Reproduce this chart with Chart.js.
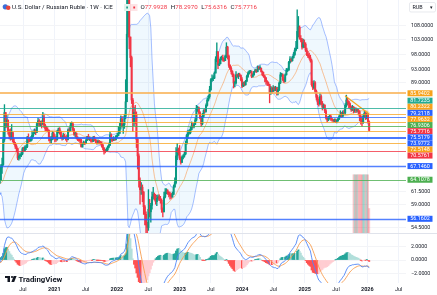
<!DOCTYPE html>
<html>
<head>
<meta charset="utf-8">
<script src="https://cdn.jsdelivr.net/npm/chart.js@4"></script>
<style>
  body { margin: 0; background: #fff; width: 437px; height: 295px; overflow: hidden; position: relative; }
  canvas { position: absolute; left: 0; }
  #price { top: 0; }
  #macd { top: 233px; }
</style>
</head>
<body>
<canvas id="price" width="437" height="233"></canvas>
<canvas id="macd" width="437" height="62"></canvas>
<script>
// weekly USD/RUB candles, first one is the week of 30 Sep 2019
const firstWeek = 2019.763;
const firstOpen = 64.5;

const closes = [
  64.3,64.0,63.9,63.8, 63.9,64.2,64.0,64.3, 64.0,63.5,62.8,62.3,62.0,
  61.5,61.3,61.8,63.5, 63.8,63.4,64.0,66.9, 67.5,73.5,80.5,78.0,78.5, 75.5,74.5,73.8,75.2, 73.0,72.5,71.8,71.2, 69.0,69.5,69.6,70.0,71.2,
  70.8,71.5,71.7,74.0, 73.4,73.2,73.8,74.5, 75.0,75.8,75.3,77.5,78.3, 77.4,77.7,77.5,79.3, 77.1,76.2,75.9,75.8, 73.8,73.2,73.5,75.0,74.0,
  73.8,73.5,75.5,76.2, 75.3,74.0,73.8,74.6, 74.0,73.9,73.5,75.9,75.7, 77.0,77.5,76.0,74.8, 75.0,73.9,73.5,73.3, 73.2,71.7,72.4,72.8,72.5,
  73.3,74.2,73.5,73.6, 73.2,73.0,73.9,73.4, 72.9,72.8,72.9,72.7,72.6, 72.1,71.4,70.6,70.5, 71.0,71.6,72.0,74.6, 73.7,73.4,73.6,73.5,74.3,
  74.5,75.0,76.8,78.8, 77.0,77.3,79.5,83.5, 105.0,120.5,104.0,97.0,84.0, 78.0,80.5,80.0,73.5, 69.5,64.0,62.0,62.5, 61.5,58.5,57.0,55.0,54.5,
  58.0,57.5,58.8,60.5, 61.0,60.5,59.5,60.2, 60.5,60.0,59.8,58.0,57.5, 60.5,61.5,61.8,61.4, 61.0,60.8,60.5,61.0, 62.5,63.5,69.5,71.0,70.3,
  69.0,68.0,69.2,69.5, 70.0,72.5,74.5,75.2, 75.2,76.0,77.0,76.8,77.3, 78.5,81.5,81.8,80.5, 79.0,77.5,79.5,81.0, 80.8,82.5,84.0,85.0,87.0,
  90.0,90.3,90.5,92.0, 96.5,99.0,94.5,95.0, 96.5,97.0,96.5,96.0,97.5, 100.5,97.5,94.5,93.5, 92.5,91.5,89.0,89.0, 91.5,91.0,91.5,91.3,90.0,
  88.0,89.0,88.5,89.5, 91.0,92.0,92.5,92.5, 91.0,91.5,92.5,93.0,92.5, 94.0,93.5,93.5,92.5, 91.5,91.0,90.5,89.5, 89.0,88.5,86.0,87.5,86.5,
  87.5,87.0,87.5,85.8, 87.0,89.0,91.5,91.5, 90.0,89.5,91.5,93.0,93.0, 95.5,96.5,96.0,97.0, 98.0,99.5,100.0,106.0, 107.5,103.5,103.0,100.5,102.0,
  101.5,99.5,98.0,97.5, 97.0,96.0,88.5,87.5, 89.0,86.5,84.8,83.5,83.0, 85.0,83.0,82.0,82.5, 81.0,79.0,78.5,79.0, 79.5,78.8,78.5,78.3,78.4,
  78.2,78.3,78.8,79.5, 80.0,79.5,80.5,80.4, 82.5,84.0,83.5,83.0,82.0, 81.3,82.0,81.0,81.5, 81.0,81.2,80.8,79.5, 78.5,77.8,79.5,80.3,79.0,
  80.0,77.9928,75.7716
];
const highs = [
  64.9,64.6,64.4,64.2, 64.3,64.5,64.4,64.6, 64.5,64.1,63.6,62.9,62.5,
  62.1,61.8,62.0,63.7, 64.5,64.0,64.3,67.5, 69.0,75.5,82.7,80.5,79.8, 78.5,76.0,76.2,77.3, 75.3,73.7,72.8,72.2, 71.4,70.2,70.0,70.4,71.5,
  71.6,71.9,72.1,74.3, 74.9,73.9,74.2,75.6, 75.3,76.1,76.0,77.9,79.0, 78.6,78.2,78.3,80.6, 79.8,77.4,76.8,76.5, 75.9,74.2,74.2,75.5,75.3,
  74.7,74.3,75.8,76.4, 76.5,75.6,74.3,75.0, 74.8,74.2,74.5,76.2,76.4, 77.8,78.0,77.8,76.3, 75.3,75.2,74.2,73.7, 73.8,73.5,72.6,73.1,72.9,
  73.6,74.3,74.8,74.1, 73.7,73.5,74.3,74.3, 73.5,73.3,73.4,73.3,73.0, 72.9,72.3,71.5,71.1, 71.4,71.9,72.6,75.3, 74.9,73.9,74.2,73.9,74.5,
  75.0,76.7,77.6,79.6, 79.5,77.7,80.0,90.0, 120.0,150.0,125.0,104.0,97.5, 84.5,82.0,82.5,80.7, 73.8,70.0,64.5,63.5, 63.0,61.6,58.8,57.5,55.5,
  62.0,60.0,59.2,61.5, 62.5,61.3,61.0,60.8, 60.9,60.9,60.6,60.1,58.3, 61.5,62.2,62.2,62.0, 61.6,61.5,61.2,61.5, 63.0,64.5,71.5,72.5,71.4,
  72.0,69.3,69.5,69.8, 70.5,73.1,74.8,75.8, 76.0,76.6,78.0,77.7,77.6, 79.0,82.5,82.2,82.0, 80.8,79.5,80.3,81.3, 81.5,82.9,84.5,85.3,88.0,
  90.3,91.5,91.2,92.4, 97.3,102.0,98.5,96.5, 97.2,97.5,97.8,96.8,97.8, 102.0,100.8,97.8,94.7, 94.0,92.8,91.8,89.6, 92.5,91.7,92.0,92.0,91.5,
  90.6,89.3,89.4,89.8, 91.4,92.4,92.8,92.9, 92.7,91.9,92.6,93.3,93.1, 94.3,94.1,94.4,93.7, 92.7,92.3,91.3,90.7, 89.7,89.3,88.6,88.0,87.8,
  88.2,87.9,88.0,87.7, 87.8,89.3,92.2,92.0, 91.8,90.6,91.8,93.5,93.4, 95.8,97.3,96.7,97.4, 98.7,100.2,102.5,114.0, 111.5,108.0,104.5,103.5,103.3,
  103.0,102.0,100.2,99.0, 98.5,97.8,96.5,89.5, 89.7,89.4,86.9,85.3,84.3, 86.0,85.5,83.6,82.9, 82.7,81.3,79.4,79.5, 79.8,79.9,79.0,78.7,78.8,
  78.8,78.6,79.1,79.9, 81.0,80.6,81.0,81.2, 83.0,85.4,84.5,83.7,83.2, 82.3,82.5,82.2,81.9, 81.8,81.5,81.4,81.0, 79.9,78.9,80.0,80.8,80.6,
  80.4,80.2,78.297
];
const lows = [
  64.0,63.6,63.4,63.4, 63.6,63.7,63.7,63.8, 63.8,63.2,62.5,62.0,61.7,
  61.3,61.0,61.2,61.7, 63.3,63.0,63.3,63.9, 65.5,67.3,73.0,76.5,76.6, 74.8,73.6,73.3,73.5, 72.8,72.2,71.3,70.5, 68.6,68.5,68.8,69.3,69.8,
  70.5,70.6,71.0,71.5, 72.8,72.9,73.0,73.3, 74.2,74.9,74.7,75.2,77.0, 76.9,77.0,76.4,77.2, 76.5,75.7,75.7,75.4, 73.1,72.7,72.6,73.5,73.6,
  72.9,73.0,73.3,75.1, 74.8,73.8,73.3,73.5, 73.7,73.3,72.9,73.4,75.4, 75.6,76.6,75.6,74.5, 74.1,73.6,73.2,73.0, 72.6,71.6,71.6,72.3,72.2,
  72.6,73.2,73.4,73.2, 72.8,72.8,73.0,73.2, 72.7,72.3,72.4,72.4,72.3, 71.6,70.9,69.9,70.2, 70.6,70.7,71.4,72.2, 73.0,73.0,73.2,73.2,73.4,
  73.9,74.4,75.0,76.1, 76.6,75.0,76.3,78.8, 83.5,104.0,100.0,94.0,83.0, 75.5,77.0,77.5,71.5, 66.5,62.5,59.0,61.0, 59.5,57.0,55.0,52.5,51.5,
  54.0,56.5,55.5,58.0, 60.0,59.8,59.0,58.7, 59.8,59.7,59.2,57.4,56.5, 57.5,60.3,61.1,61.0, 60.5,60.0,60.2,60.4, 61.0,62.6,63.2,68.6,69.7,
  68.6,67.6,67.9,68.8, 69.2,69.8,72.3,73.8, 74.8,74.9,75.9,76.4,76.4, 77.3,78.2,80.8,80.2, 78.8,76.8,77.2,79.2, 80.4,80.6,82.3,83.7,84.5,
  86.8,89.5,89.7,90.3, 92.1,95.7,93.4,94.4, 94.9,96.2,95.8,95.7,96.0, 97.0,96.5,93.8,93.1, 91.8,90.9,87.5,87.8, 88.6,90.7,90.3,91.0,89.6,
  87.6,87.9,88.1,88.3, 89.5,90.7,91.8,92.1, 90.6,90.8,91.3,92.3,92.2, 92.4,93.0,93.1,92.3, 91.2,90.7,89.3,88.6, 88.2,88.2,83.2,85.6,85.9,
  86.5,86.6,86.7,85.4, 85.5,86.7,88.8,91.0, 89.6,89.1,89.3,91.4,92.5, 92.9,95.2,95.6,95.8, 96.8,97.7,99.2,100.0, 104.0,103.2,102.3,99.8,100.2,
  100.3,99.0,97.6,97.0, 96.5,95.5,88.0,87.0, 87.2,86.0,84.0,82.7,82.3, 82.6,82.6,81.2,81.6, 80.5,78.7,78.0,78.3, 78.7,78.4,78.2,77.9,78.0,
  77.8,77.7,78.1,78.6, 79.3,79.2,79.3,80.1, 80.0,82.0,82.6,81.8,81.5, 80.8,81.0,80.4,80.6, 80.5,80.6,79.9,78.3, 77.4,76.9,77.6,79.2,78.6,
  78.8,77.7,75.6316
];

// drawn horizontal levels and the trend line
const levelPrices = [85.9402, 81.7235, 80.2322, 79.2118, 77.9632, 76.9306, 75.5179, 73.9772, 72.5148, 70.5761, 67.1460, 64.1078, 56.1602];
const lastPrice = 75.7716;
const trendTime = [2025.644, 2026.03];
const trendPrice = [85.2, 80.1];

// volume exists only for the last weeks
const volumeFrom = 314;
const volume = [100, 100, 100, 100, 100, 100, 100, 100, 100, 100, 100, 100, 100, 42];

const priceTicks = [54.5, 59, 61.5, 89, 93, 98, 103, 108];
const macdTicks = [-2, 0, 2];
const timeTicks = [2020.5, 2021, 2021.5, 2022, 2022.5, 2023, 2023.5, 2024, 2024.5, 2025, 2025.5, 2026, 2026.5];

/* derived series */
const n = closes.length;
const t = closes.map((c, i) => firstWeek + i * 7 / 365.25);
const opens = closes.map((c, i) => i ? closes[i - 1] : firstOpen);
const candleColor = closes.map((c, i) => c >= opens[i] ? '#089981' : '#f23645');

// Bollinger bands 20, 2
const bbUpper = [], bbLower = [], bbBasis = [];
for (let i = 19; i < n; i++) {
  const win = closes.slice(i - 19, i + 1);
  const m = win.reduce((a, b) => a + b, 0) / 20;
  const sd = Math.sqrt(win.reduce((a, b) => a + (b - m) * (b - m), 0) / 20);
  bbBasis.push({ x: t[i], y: m });
  bbUpper.push({ x: t[i], y: m + 2 * sd });
  bbLower.push({ x: t[i], y: m - 2 * sd });
}

// MACD 12, 26, 9
function ema(arr, len) {
  const k = 2 / (len + 1);
  const out = [];
  arr.forEach((v, i) => out.push(i ? v * k + out[i - 1] * (1 - k) : v));
  return out;
}
const e12 = ema(closes, 12), e26 = ema(closes, 26);
const macd = closes.map((c, i) => e12[i] - e26[i]);
const signal = ema(macd, 9);
const hist = macd.map((m, i) => m - signal[i]);
const histColor = hist.map((h, i) => {
  const prev = i ? hist[i - 1] : h;
  if (h >= 0) return h > prev ? '#26a69a' : '#b2dfdb';
  return h < prev ? '#ff5252' : '#ffcdd2';
});

const FONT = 'Roboto, "Noto Sans", sans-serif';

const xBase = {
  type: 'linear', min: 2020.1326, max: 2026.618, offset: false,
  afterBuildTicks: s => { s.ticks = timeTicks.map(v => ({ value: v })); },
  grid: { color: '#f0f3fa', drawTicks: false, offset: false },
  border: { display: false }
};

/* levels, tags and header on the price pane */
const levelLook = [
  ['rgba(249,178,85,0.8)', 2, '#f7a21b'], ['rgba(34,171,148,0.8)', 1, '#22ab94'], ['rgba(247,162,27,0.75)', 1, '#f7a21b'], ['rgba(41,98,255,0.75)', 1, '#2962ff'],
  ['rgba(247,162,27,0.75)', 1, '#f7a21b'], ['rgba(76,175,80,0.8)', 1, '#4caf50'], ['rgba(247,162,27,0.75)', 1, '#2962ff'], ['rgba(41,98,255,0.85)', 2, '#2962ff'],
  ['rgba(247,162,27,0.75)', 1, '#f7a21b'], ['rgba(242,54,69,0.8)', 1, '#f23645'], ['rgba(41,98,255,0.8)', 1.5, '#2962ff'], ['rgba(76,175,80,0.8)', 1, '#4caf50'],
  ['rgba(41,98,255,0.8)', 1.5, '#2962ff']
];

const pricePlugin = {
  id: 'pricePane',
  afterDatasetsDraw(chart) {
    const { ctx, chartArea: a, scales: { y } } = chart;
    ctx.save();
    ctx.beginPath(); ctx.rect(a.left, a.top, a.right - a.left, a.bottom - a.top); ctx.clip();
    levelPrices.forEach((v, i) => {
      const py = Math.round(y.getPixelForValue(v)) + (levelLook[i][1] % 2 ? 0.5 : 0);
      ctx.strokeStyle = levelLook[i][0];
      ctx.lineWidth = levelLook[i][1];
      ctx.beginPath(); ctx.moveTo(a.left, py); ctx.lineTo(a.right, py); ctx.stroke();
    });
    ctx.restore();
  },
  afterDraw(chart) {
    const { ctx, chartArea: a, scales: { y } } = chart;
    // price tags, spread so they do not overlap
    const items = levelPrices.map((v, i) => ({ v, y: y.getPixelForValue(v), bg: levelLook[i][2] }));
    items.push({ v: lastPrice, y: y.getPixelForValue(lastPrice), bg: '#f23645' });
    items.sort((p, q) => p.y - q.y);
    const gap = 6.1;
    const place = g => {
      const c = g.items.reduce((s, it) => s + it.y, 0) / g.items.length;
      g.top = c - (g.items.length - 1) * gap / 2;
    };
    const groups = items.map(it => ({ items: [it] }));
    groups.forEach(place);
    let merged = true;
    while (merged) {
      merged = false;
      for (let i = 1; i < groups.length; i++) {
        const p = groups[i - 1], q = groups[i];
        if (p.top + p.items.length * gap > q.top) {
          p.items = p.items.concat(q.items); place(p); groups.splice(i, 1); merged = true; break;
        }
      }
    }
    ctx.save();
    ctx.font = '5.4px ' + FONT;
    ctx.textAlign = 'center';
    ctx.textBaseline = 'middle';
    groups.forEach(g => g.items.forEach((it, k) => {
      const cy = g.top + k * gap;
      ctx.fillStyle = it.bg;
      ctx.fillRect(a.right + 1.5, cy - 3, 25, 6);
      ctx.fillStyle = '#ffffff';
      ctx.fillText(it.v.toFixed(4), a.right + 14, cy + 0.3);
    }));

    // header
    ctx.textAlign = 'left';
    ctx.fillStyle = '#3c6fd9';
    ctx.beginPath(); ctx.arc(5.3, 6.8, 2.6, 0, Math.PI * 2); ctx.fill();
    ctx.fillStyle = '#e8453c';
    ctx.beginPath(); ctx.arc(8.2, 7.8, 2.3, 0, Math.PI * 2); ctx.fill();
    ctx.fillStyle = '#131722';
    ctx.font = '6.2px ' + FONT;
    ctx.fillText('U.S. Dollar / Russian Ruble \u00b7 1W \u00b7 ICE', 12, 7.5);

    ctx.fillStyle = '#e3f4ef'; ctx.fillRect(124, 4, 6, 7);
    ctx.fillStyle = '#089981'; ctx.fillRect(126.3, 6.5, 1.6, 2);
    ctx.fillStyle = '#fde4e6'; ctx.fillRect(131, 4, 6.5, 7);
    ctx.fillStyle = '#f23645'; ctx.fillRect(133.3, 6.5, 1.8, 2);

    let x = 140.5;
    const vals = [['O', '77.9928'], ['H', '78.2970'], ['L', '75.6316'], ['C', '75.7716']];
    vals.forEach(([k, v]) => {
      ctx.fillStyle = '#131722'; ctx.fillText(k, x, 7.5); x += ctx.measureText(k).width;
      ctx.fillStyle = '#f23645'; ctx.fillText(v, x, 7.5); x += ctx.measureText(v).width + 3.5;
    });

    // currency button
    ctx.fillStyle = '#ffffff'; ctx.strokeStyle = '#d9dce3'; ctx.lineWidth = 0.6;
    ctx.beginPath(); ctx.roundRect(409.5, 2.5, 26, 9.5, 1.5); ctx.fill(); ctx.stroke();
    ctx.fillStyle = '#131722'; ctx.font = '5.4px ' + FONT;
    ctx.fillText('RUB', 412.5, 7.5);
    ctx.font = '4.5px ' + FONT;
    ctx.fillText('\u25be', 429.5, 7.5);
    ctx.restore();
  }
};

const macdPlugin = {
  id: 'macdPane',
  afterDraw(chart) {
    const { ctx } = chart;
    ctx.save();
    ctx.strokeStyle = '#e0e3eb'; ctx.lineWidth = 1;
    ctx.beginPath(); ctx.moveTo(0, 0.5); ctx.lineTo(437, 0.5); ctx.stroke();
    // TradingView logo
    ctx.fillStyle = '#131722';
    ctx.fillRect(5, 43, 5, 2);
    ctx.fillRect(7.5, 43, 2.5, 6);
    ctx.beginPath(); ctx.arc(12, 44, 1.1, 0, Math.PI * 2); ctx.fill();
    ctx.beginPath(); ctx.moveTo(13.6, 43); ctx.lineTo(16.6, 43); ctx.lineTo(14.2, 49); ctx.lineTo(11.4, 49); ctx.closePath(); ctx.fill();
    ctx.font = 'bold 7.8px ' + FONT;
    ctx.textBaseline = 'alphabetic';
    ctx.fillText('TradingView', 18.5, 48.8);
    ctx.restore();
  }
};

/* price pane */
new Chart(document.getElementById('price'), {
  type: 'bar',
  data: {
    datasets: [
      { type: 'line', data: trendTime.map((x, i) => ({ x, y: trendPrice[i] })), borderColor: '#f7a21b', borderWidth: 1.2, pointRadius: 0, order: 0 },
      { data: t.map((x, i) => ({ x, y: [opens[i], closes[i]] })), backgroundColor: candleColor, barThickness: 1.3, grouped: false, minBarLength: 0.8, order: 1 },
      { data: t.map((x, i) => ({ x, y: [lows[i], highs[i]] })), backgroundColor: candleColor, barThickness: 0.7, grouped: false, order: 2 },
      { type: 'line', data: bbBasis, borderColor: 'rgba(255,109,0,0.5)', borderWidth: 0.8, pointRadius: 0, order: 3 },
      { type: 'line', data: bbUpper, borderColor: 'rgba(41,98,255,0.5)', borderWidth: 0.8, pointRadius: 0, fill: '+1', backgroundColor: 'rgba(33,150,243,0.07)', order: 4 },
      { type: 'line', data: bbLower, borderColor: 'rgba(41,98,255,0.5)', borderWidth: 0.8, pointRadius: 0, order: 4 },
      { data: volume.map((v, i) => ({ x: t[volumeFrom + i], y: v })), yAxisID: 'yv',
        backgroundColor: volume.map((v, i) => candleColor[volumeFrom + i] === '#089981' ? 'rgba(8,153,129,0.28)' : 'rgba(242,54,69,0.28)'),
        barThickness: 1.3, grouped: false, order: 6 }
    ]
  },
  options: {
    responsive: false, animation: false, events: [],
    layout: { padding: 0 },
    plugins: { legend: { display: false }, tooltip: { enabled: false } },
    scales: {
      x: Object.assign({}, xBase, {
        ticks: { display: false },
        afterFit: s => { s.height = 0; s.paddingLeft = 0; s.paddingRight = 0; }
      }),
      y: {
        type: 'logarithmic', position: 'right', min: 53.52, max: 117.9,
        afterBuildTicks: s => { s.ticks = priceTicks.map(v => ({ value: v })); },
        afterFit: s => { s.width = 31; s.paddingTop = 0; s.paddingBottom = 0; },
        grid: { color: '#f3f4f7', drawTicks: false },
        border: { display: false },
        ticks: { padding: 5, color: '#131722', font: { size: 5.3, family: FONT }, callback: v => Number(v).toFixed(4) }
      },
      yv: { display: false, min: 0, max: 400 }
    }
  },
  plugins: [pricePlugin]
});

/* MACD pane */
new Chart(document.getElementById('macd'), {
  type: 'bar',
  data: {
    datasets: [
      { type: 'line', data: t.map((x, i) => ({ x, y: macd[i] })), borderColor: '#4f86f7', borderWidth: 0.9, pointRadius: 0, order: 0 },
      { type: 'line', data: t.map((x, i) => ({ x, y: signal[i] })), borderColor: '#f79d4f', borderWidth: 0.9, pointRadius: 0, order: 1 },
      { data: t.map((x, i) => ({ x, y: hist[i] })), backgroundColor: histColor, barThickness: 1.3, grouped: false, order: 2 }
    ]
  },
  options: {
    responsive: false, animation: false, events: [],
    layout: { padding: 0 },
    plugins: { legend: { display: false }, tooltip: { enabled: false } },
    scales: {
      x: Object.assign({}, xBase, {
        ticks: {
          color: '#131722', padding: 3, maxRotation: 0, autoSkip: false,
          font: c => ({ size: 5.5, family: FONT, weight: c.tick && c.tick.value % 1 === 0 ? 'bold' : 'normal' }),
          callback: v => (v % 1 === 0 ? String(v) : 'Jul')
        },
        afterFit: s => { s.height = 12; s.paddingLeft = 0; s.paddingRight = 0; }
      }),
      y: {
        position: 'right', min: -3.43, max: 4.03,
        afterBuildTicks: s => { s.ticks = macdTicks.map(v => ({ value: v })); },
        afterFit: s => { s.width = 31; s.paddingTop = 0; s.paddingBottom = 0; },
        grid: { color: '#f3f4f7', drawTicks: false },
        border: { display: false },
        ticks: { padding: 5, color: '#131722', font: { size: 5.3, family: FONT },
          callback: v => (v < 0 ? '\u2212' : '') + Math.abs(v).toFixed(4) }
      }
    }
  },
  plugins: [macdPlugin]
});
</script>
</body>
</html>
